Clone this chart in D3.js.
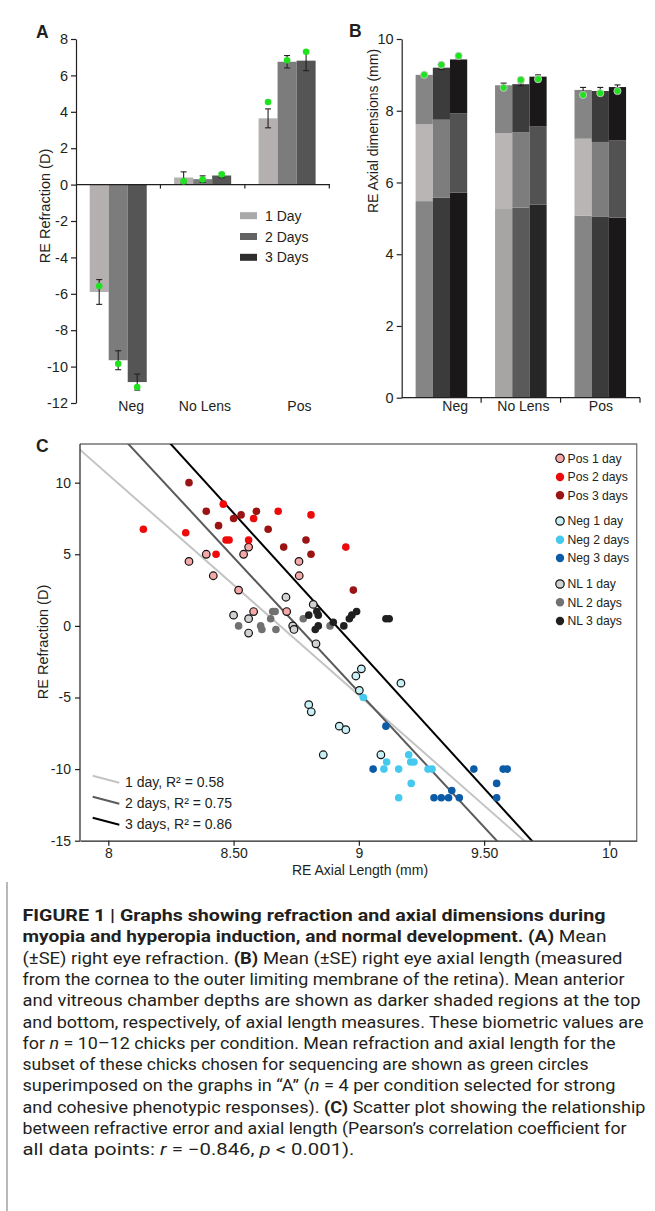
<!DOCTYPE html>
<html><head><meta charset="utf-8">
<script src="https://cdn.jsdelivr.net/npm/d3@7"></script>
<style>
body{margin:0;background:#fff}
svg{display:block}
text{font-family:"Liberation Sans",Arial,sans-serif;fill:#231f20}
</style>
</head><body><svg id="c" width="655" height="1211"></svg>
<script>
// ---------------- DATA ----------------
const categories = ["Neg", "No Lens", "Pos"];
const days = ["1 Day", "2 Days", "3 Days"];
// Panel A: RE refraction (D), rows = categories, cols = days
const refrMean  = [[-5.90, -9.65, -10.85], [0.39, 0.30, 0.50], [3.64, 6.75, 6.81]];
const refrSE    = [[0.68, 0.52, 0.44], [0.31, 0.18, 0.12], [0.52, 0.34, 0.55]];
const refrGreen = [[-5.57, -9.84, -11.12], [0.19, 0.28, 0.56], [4.54, 6.83, 7.30]];
const refrTicks = [-12, -10, -8, -6, -4, -2, 0, 2, 4, 6, 8];
// Panel B: axial dimensions (mm): vitreous (bottom), lens (middle), anterior chamber (top)
const vitreous  = [[5.48, 5.58, 5.72], [5.26, 5.30, 5.38], [5.07, 5.04, 5.02]];
const lens      = [[2.14, 2.17, 2.21], [2.11, 2.10, 2.18], [2.15, 2.09, 2.15]];
const anterior  = [[1.38, 1.45, 1.50], [1.34, 1.34, 1.39], [1.36, 1.42, 1.49]];
const axialSE   = [[0.04, 0.05, 0.04], [0.06, 0.04, 0.05], [0.07, 0.10, 0.06]];
const axialGreen= [[9.00, 9.28, 9.53], [8.64, 8.86, 8.88], [8.44, 8.49, 8.55]];
const axialTicks = [0, 2, 4, 6, 8, 10];
// Panel C: scatter [axial length (mm), refraction (D)]
const groups = ["Pos 1 day","Pos 2 days","Pos 3 days","Neg 1 day","Neg 2 days","Neg 3 days","NL 1 day","NL 2 days","NL 3 days"];
const pos1 = [[8.322,4.5],[8.391,5.0],[8.419,3.5],[8.560,5.5],[8.540,5.0],[8.520,2.5],[8.761,4.5],[8.762,3.5],[8.580,1.0],[8.712,1.0]];
const pos2 = [[8.140,6.75],[8.309,6.5],[8.459,8.5],[8.430,5.0],[8.470,6.0],[8.482,6.0],[8.580,7.5],[8.560,6.0],[8.678,8.0],[8.809,7.75],[8.948,5.5]];
const pos3 = [[8.322,10.0],[8.391,8.0],[8.440,7.0],[8.500,7.5],[8.530,7.75],[8.591,8.0],[8.638,6.75],[8.700,5.5],[8.789,6.0],[8.809,5.0],[8.978,2.5]];
const neg1 = [[8.800,-5.5],[8.810,-6.0],[8.858,-9.0],[8.922,-7.0],[8.948,-7.25],[8.988,-3.5],[9.010,-3.0],[9.002,-4.5],[9.168,-4.0],[9.088,-9.0]];
const neg2 = [[9.018,-5.0],[9.100,-10.0],[9.111,-9.5],[9.159,-10.0],[9.159,-12.0],[9.199,-9.0],[9.207,-9.5],[9.220,-9.5],[9.209,-11.0],[9.276,-10.0],[9.292,-10.0]];
const neg3 = [[9.108,-7.0],[9.057,-10.0],[9.300,-12.0],[9.329,-12.0],[9.358,-12.0],[9.371,-11.5],[9.401,-12.0],[9.459,-10.0],[9.550,-11.0],[9.550,-12.0],[9.576,-10.0],[9.592,-10.0]];
const nl1  = [[8.500,0.75],[8.560,0.5],[8.560,-0.5],[8.709,2.0],[8.736,0.0],[8.741,-0.25],[8.818,1.5],[8.829,-1.25]];
const nl2  = [[8.520,0.0],[8.608,0.0],[8.613,-0.25],[8.648,0.5],[8.656,1.0],[8.666,1.0],[8.669,-0.25],[8.778,0.5],[8.885,0.0]];
const nl3  = [[8.800,0.75],[8.832,1.0],[8.838,0.75],[8.826,-0.25],[8.838,0.0],[8.898,0.25],[8.940,0.0],[8.962,0.5],[8.972,0.75],[8.991,1.0],[9.108,0.5],[9.121,0.5]];
const scatterSets = [pos1, pos2, pos3, neg1, neg2, neg3, nl1, nl2, nl3];
// regression lines: refraction = intercept + slope * axial
const fitLabels = ["1 day, R\u00b2 = 0.58", "2 days, R\u00b2 = 0.75", "3 days, R\u00b2 = 0.86"];
const fitSlope = [-15.40, -18.84, -19.22];
const fitIntercept = [133.76, 164.93, 171.25];
const cXTicks = [8, 8.5, 9, 9.5, 10];
const cXTickLabels = ["8", "8.50", "9", "9.50", "10"];
const cYTicks = [-15, -10, -5, 0, 5, 10];

// ---------------- STYLE ----------------
const ink = "#231f20";
const barColA = ["#b4b0b0", "#7c7c7c", "#555555"];
const legColA = ["#a9a9a9", "#636363", "#2e2e2e"];
const green = "#1fe31f";
const segCol = [
  [["#858585","#b9b5b5","#858585"],["#3b3b3b","#7d7d7d","#3c3c3c"],["#1b181a","#525252","#1b181a"]],
  [["#a7a4a4","#b9b5b5","#858585"],["#5a5a5a","#7d7d7d","#3c3c3c"],["#262626","#525252","#1b181a"]],
  [["#858585","#b9b5b5","#858585"],["#3b3b3b","#7d7d7d","#3c3c3c"],["#1b181a","#525252","#1b181a"]]
];
const grpFill = ["#f6a7a7","#ee0a0a","#9b1414","#c8f0f5","#46c9ee","#0c5ba7","#d2d2d2","#717171","#202020"];
const grpStroke = [true,false,false,true,false,false,true,false,false];
const fitCol = ["#c4c4c4", "#5a5a5a", "#000000"];
const plain = d => String(d); // hyphen-minus like the reference

const svg = d3.select("#c");
svg.append("rect").attr("width",655).attr("height",1211).attr("fill","#fff");

function styleAxis(g, fs){
  g.selectAll("path.domain").attr("stroke", ink).attr("stroke-width",1.2);
  g.selectAll(".tick line").attr("stroke", ink).attr("stroke-width",1.2);
  g.selectAll(".tick text").attr("fill", ink).style("font-size", fs+"px")
   .style("font-family", '"Liberation Sans",Arial,sans-serif');
}

// ================= PANEL A =================
const yA = d3.scaleLinear().domain([-12, 8]).range([403, 39]);
const xA = d3.scaleBand().domain(categories).range([76, 329.3]);
const xA1 = d3.scaleBand().domain(days).range([0, xA.bandwidth()]).paddingOuter(0.72);
const gA = svg.append("g");
const cellsA = [];
categories.forEach((c,i)=>days.forEach((d,j)=>cellsA.push({c,d,i,j,v:refrMean[i][j],se:refrSE[i][j],g:refrGreen[i][j]})));
gA.selectAll("rect.bar").data(cellsA).join("rect")
  .attr("x", d=>xA(d.c)+xA1(d.d)).attr("width", xA1.bandwidth())
  .attr("y", d=>yA(Math.max(0,d.v))).attr("height", d=>Math.abs(yA(d.v)-yA(0)))
  .attr("fill", d=>barColA[d.j]);
const axA = gA.append("g").attr("transform","translate(76,0)")
  .call(d3.axisLeft(yA).tickValues(refrTicks).tickFormat(plain).tickSize(5).tickSizeOuter(0).tickPadding(3));
styleAxis(axA, 14.5);
gA.append("line").attr("x1",76).attr("x2",330).attr("y1",yA(0)).attr("y2",yA(0)).attr("stroke",ink).attr("stroke-width",1.2);
gA.selectAll("line.xt").data(categories).join("line")
  .attr("x1",d=>xA(d)+xA.bandwidth()).attr("x2",d=>xA(d)+xA.bandwidth())
  .attr("y1",yA(0)).attr("y2",yA(0)+4).attr("stroke",ink).attr("stroke-width",1.2);
cellsA.forEach(d=>{
  const cx = xA(d.c)+xA1(d.d)+xA1.bandwidth()/2;
  const y1 = yA(d.v+d.se), y2 = yA(d.v-d.se);
  gA.append("line").attr("x1",cx).attr("x2",cx).attr("y1",y1).attr("y2",y2).attr("stroke",ink).attr("stroke-width",1.1);
  [y1,y2].forEach(y=>gA.append("line").attr("x1",cx-3).attr("x2",cx+3).attr("y1",y).attr("y2",y).attr("stroke",ink).attr("stroke-width",1.1));
});
gA.selectAll("circle.gd").data(cellsA).join("circle")
  .attr("cx", d=>xA(d.c)+xA1(d.d)+xA1.bandwidth()/2).attr("cy", d=>yA(d.g)).attr("r",3.3).attr("fill",green);
const labOffA = [13, 2.3, 12.3];
gA.selectAll("text.cat").data(categories).join("text")
  .attr("x",(d,i)=>xA(d)+xA.bandwidth()/2+labOffA[i]).attr("y",411)
  .attr("text-anchor","middle").style("font-size","14px").text(d=>d);
days.forEach((d,j)=>{
  const yy = 215.7 + j*20.8;
  gA.append("rect").attr("x",240).attr("y",yy-3.5).attr("width",17).attr("height",7).attr("fill",legColA[j]);
  gA.append("text").attr("x",265).attr("y",yy+5).style("font-size","14px").text(d);
});
gA.append("text").attr("x",45).attr("y",206).attr("transform","rotate(-90,45,206)")
  .attr("text-anchor","middle").attr("dy","0.35em").style("font-size","14.5px").text("RE Refraction (D)");
gA.append("text").attr("x",36).attr("y",38).style("font-size","17.5px").style("font-weight","bold").text("A");

// ================= PANEL B =================
const yB = d3.scaleLinear().domain([0, 10]).range([397.7, 39]);
const xB = d3.scaleBand().domain(categories).range([401.7, 640]);
const xB1 = d3.scaleBand().domain(days).range([0, xB.bandwidth()]).paddingOuter(0.81);
const gB = svg.append("g");
const cellsB = [];
categories.forEach((c,i)=>days.forEach((d,j)=>{
  const segs = [vitreous[i][j], lens[i][j], anterior[i][j]];
  let base = 0;
  segs.forEach((s,k)=>{ cellsB.push({c,d,i,j,k,y0:base,y1:base+s}); base += s; });
}));
gB.selectAll("rect.seg").data(cellsB).join("rect")
  .attr("x", d=>xB(d.c)+xB1(d.d)).attr("width", xB1.bandwidth())
  .attr("y", d=>yB(d.y1)).attr("height", d=>yB(d.y0)-yB(d.y1))
  .attr("fill", d=>segCol[d.i][d.j][d.k]);
const axB = gB.append("g").attr("transform","translate(401.7,0)")
  .call(d3.axisLeft(yB).tickValues(axialTicks).tickFormat(plain).tickSize(5).tickSizeOuter(0).tickPadding(3));
styleAxis(axB, 14.5);
gB.append("line").attr("x1",401.7).attr("x2",640).attr("y1",yB(0)).attr("y2",yB(0)).attr("stroke",ink).attr("stroke-width",1.2);
gB.selectAll("line.xt").data(categories).join("line")
  .attr("x1",d=>xB(d)+xB.bandwidth()).attr("x2",d=>xB(d)+xB.bandwidth())
  .attr("y1",yB(0)).attr("y2",yB(0)+5).attr("stroke",ink).attr("stroke-width",1.2);
categories.forEach((c,i)=>days.forEach((d,j)=>{
  const tot = vitreous[i][j]+lens[i][j]+anterior[i][j];
  const se = axialSE[i][j];
  const cx = xB(c)+xB1(d)+xB1.bandwidth()/2;
  const y1 = yB(tot+se), y2 = yB(tot-se);
  gB.append("line").attr("x1",cx).attr("x2",cx).attr("y1",y1).attr("y2",y2).attr("stroke",ink).attr("stroke-width",1.1);
  [y1,y2].forEach(y=>gB.append("line").attr("x1",cx-3).attr("x2",cx+3).attr("y1",y).attr("y2",y).attr("stroke",ink).attr("stroke-width",1.1));
  gB.append("circle").attr("cx",cx).attr("cy",yB(axialGreen[i][j])).attr("r",3.6)
    .attr("fill",green).attr("stroke","#c8c8c8").attr("stroke-width",0.9);
}));
const labOffB = [13.7, 2.5, 0.6];
gB.selectAll("text.cat").data(categories).join("text")
  .attr("x",(d,i)=>xB(d)+xB.bandwidth()/2+labOffB[i]).attr("y",411)
  .attr("text-anchor","middle").style("font-size","14px").text(d=>d);
gB.append("text").attr("x",373).attr("y",131).attr("transform","rotate(-90,373,131)")
  .attr("text-anchor","middle").attr("dy","0.35em").style("font-size","14px").text("RE Axial dimensions (mm)");
gB.append("text").attr("x",349).attr("y",37).style("font-size","17.5px").style("font-weight","bold").text("B");

// ================= PANEL C =================
const xC = d3.scaleLinear().domain([7.887, 10.109]).range([80, 636.7]);
const yC = d3.scaleLinear().domain([-15, 12.7]).range([840.7, 444]);
const gC = svg.append("g");
gC.append("defs").append("clipPath").attr("id","clipC").append("rect")
  .attr("x",80).attr("y",444).attr("width",556.7).attr("height",396.7);
gC.append("path").attr("d",`M80,444H636.7V840.7`).attr("fill","none").attr("stroke","#767676").attr("stroke-width",1.3);
const gl = gC.append("g").attr("clip-path","url(#clipC)");
gl.selectAll("line").data(fitSlope).join("line")
  .attr("x1", xC(7.8)).attr("y1",(d,i)=>yC(fitIntercept[i]+d*7.8))
  .attr("x2", xC(10.2)).attr("y2",(d,i)=>yC(fitIntercept[i]+d*10.2))
  .attr("stroke",(d,i)=>fitCol[i]).attr("stroke-width",2);
scatterSets.forEach((set,gi)=>{
  gC.append("g").selectAll("circle").data(set).join("circle")
    .attr("cx",d=>xC(d[0])).attr("cy",d=>yC(d[1])).attr("r",3.8)
    .attr("fill",grpFill[gi])
    .attr("stroke",grpStroke[gi]?"#111":"none").attr("stroke-width",1.2);
});
const axCy = gC.append("g").attr("transform","translate(80,0)")
  .call(d3.axisLeft(yC).tickValues(cYTicks).tickFormat(plain).tickSize(5).tickSizeOuter(0).tickPadding(4));
styleAxis(axCy, 14);
axCy.select("path.domain").attr("d","M0,444V840.7");
const axCx = gC.append("g").attr("transform","translate(0,840.7)")
  .call(d3.axisBottom(xC).tickValues(cXTicks).tickFormat((d,i)=>cXTickLabels[i]).tickSize(5).tickSizeOuter(0).tickPadding(2));
styleAxis(axCx, 14);
gC.append("text").attr("x",360).attr("y",874.5).attr("text-anchor","middle").style("font-size","14px").text("RE Axial Length (mm)");
gC.append("text").attr("x",43).attr("y",642).attr("transform","rotate(-90,43,642)")
  .attr("text-anchor","middle").attr("dy","0.35em").style("font-size","14.5px").text("RE Refraction (D)");
gC.append("text").attr("x",36).attr("y",452).style("font-size","17.5px").style("font-weight","bold").text("C");
const legRowY = [458.3,477,495.3,521,539.7,558,584,602.3,621];
groups.forEach((g,gi)=>{
  gC.append("circle").attr("cx",560).attr("cy",legRowY[gi]).attr("r",4.2).attr("fill",grpFill[gi])
    .attr("stroke",grpStroke[gi]?"#111":"none").attr("stroke-width",1.2);
  gC.append("text").attr("x",567.5).attr("y",legRowY[gi]).attr("dy","0.36em").style("font-size","12.2px").text(g);
});
fitLabels.forEach((t,i)=>{
  const yy = 775.7 + i*21;
  gC.append("line").attr("x1",92.7).attr("y1",yy).attr("x2",119.3).attr("y2",yy+7)
    .attr("stroke",fitCol[i]).attr("stroke-width",2);
  gC.append("text").attr("x",125).attr("y",yy+11.5).style("font-size","14px").text(t);
});

// ================= CAPTION =================
svg.append("line").attr("x1",7).attr("x2",7).attr("y1",882).attr("y2",1211).attr("stroke","#a0a0a0").attr("stroke-width",1.5);
const capLines = [
  [["FIGURE 1 | Graphs showing refraction and axial dimensions during","b"]],
  [["myopia and hyperopia induction, and normal development. (A)","b"],[" Mean",""]],
  [["(\u00b1SE) right eye refraction. ",""],["(B)","b"],[" Mean (\u00b1SE) right eye axial length (measured",""]],
  [["from the cornea to the outer limiting membrane of the retina). Mean anterior",""]],
  [["and vitreous chamber depths are shown as darker shaded regions at the top",""]],
  [["and bottom, respectively, of axial length measures. These biometric values are",""]],
  [["for ",""],["n","i"],[" = 10\u201312 chicks per condition. Mean refraction and axial length for the",""]],
  [["subset of these chicks chosen for sequencing are shown as green circles",""]],
  [["superimposed on the graphs in \u201cA\u201d (",""],["n","i"],[" = 4 per condition selected for strong",""]],
  [["and cohesive phenotypic responses). ",""],["(C)","b"],[" Scatter plot showing the relationship",""]],
  [["between refractive error and axial length (Pearson\u2019s correlation coefficient for",""]],
  [["all data points: ",""],["r","i"],[" = \u22120.846, ",""],["p","i"],[" < 0.001).",""]]
];
const capWidths = [583, 584, 600, 602, 618, 621, 593, 566, 593, 623, 604, 332];
const capG = svg.append("g");
capLines.forEach((parts,li)=>{
  const t = capG.append("text").attr("x",22.5).attr("y",921 + li*21.3)
    .attr("textLength",capWidths[li]).attr("lengthAdjust","spacingAndGlyphs")
    .style("font-size","16.5px").style("font-family","Roboto, 'Liberation Sans', sans-serif");
  parts.forEach(p=>{
    const s = t.append("tspan").text(p[0]);
    if(p[1]==="b") s.style("font-weight","bold");
    if(p[1]==="i") s.style("font-style","italic");
  });
});
</script></body></html>
